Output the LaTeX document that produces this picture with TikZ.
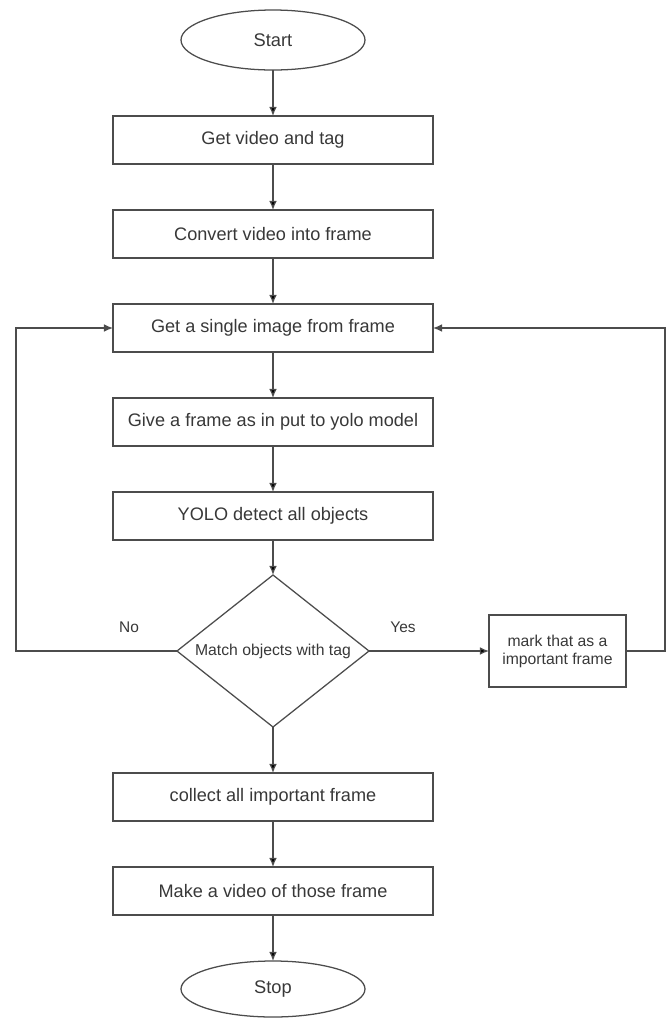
\documentclass[tikz,border=0pt]{standalone}
\usepackage{fontspec}
\setmainfont{Liberation Sans}
\usepackage{tikz}
\usetikzlibrary{arrows.meta,calc,positioning,shapes.geometric}

\begin{document}
\begin{tikzpicture}[>={Latex[length=6.5pt,width=5.5pt]}, node distance=1.15cm, align=center,
		every node/.style={text=black!78,outer sep=0pt},
		terminal/.style={ellipse,draw=black!70,line width=0.9pt,minimum width=4.6cm,minimum height=1.5cm,inner sep=0pt,font=\fontsize{13}{15}\selectfont},
		process/.style={rectangle,draw=black!70,line width=0.9pt,minimum width=8cm,minimum height=1.2cm,inner sep=0pt,font=\fontsize{12.9}{15}\selectfont},
		decision/.style={diamond,draw=black!70,line width=0.9pt,aspect=1.26,minimum width=4.8cm,minimum height=3.8cm,inner sep=0pt,font=\fontsize{11.2}{13}\selectfont},
		sidebox/.style={rectangle,draw=black!70,line width=0.9pt,minimum width=3.425cm,minimum height=1.8cm,inner sep=0pt,font=\fontsize{11.2}{12.8}\selectfont},
		lbl/.style={font=\fontsize{11}{13}\selectfont},
		flow/.style={draw=black!70,line width=0.9pt}]
			\useasboundingbox (0,0) rectangle (16.725,-25.475);
			\node[terminal] (start) at (6.825,-1.0) {Start};
			\node[process] [below=of start] (getvid) {Get video and tag};
			\node[process] [below=of getvid] (convert) {Convert video into frame};
			\node[process] [below=of convert] (getimg) {Get a single image from frame};
			\node[process] [below=of getimg] (give) {Give a frame as in put to yolo model};
			\node[process] [below=of give] (yolo) {YOLO detect all objects};
			\node[decision] [below=0.875cm of yolo] (match) {Match objects with tag};
			\node[sidebox] [right=3cm of match] (markimp) {mark that as a\\important frame};
			\node[process] [below=of match] (collect) {collect all important frame};
			\node[process] [below=of collect] (make) {Make a video of those frame};
			\node[terminal,minimum height=1.4cm] [below=of make] (stop) {Stop};
			\node[lbl] (nolbl) at ($(match.west)+(-1.2,0.6)$) {No};
			\node[lbl] (yeslbl) at ($(match.east)+(0.85,0.6)$) {Yes};
			\coordinate (leftway) at (0.4,0);
			\coordinate (rightway) at (16.625,0);
			\path[flow,->]
				(start) edge (getvid)
				(getvid) edge (convert)
				(convert) edge (getimg)
				(getimg) edge (give)
				(give) edge (yolo)
				(yolo) edge (match)
				(match) edge (markimp)
				(match) edge (collect)
				(collect) edge (make)
				(make) edge (stop);
			\draw[flow,->] (match.west) -- (match.west -| leftway) |- (getimg.west);
			\draw[flow,->] (markimp.east) -- (markimp.east -| rightway) |- (getimg.east);
		\end{tikzpicture}
\end{document}
